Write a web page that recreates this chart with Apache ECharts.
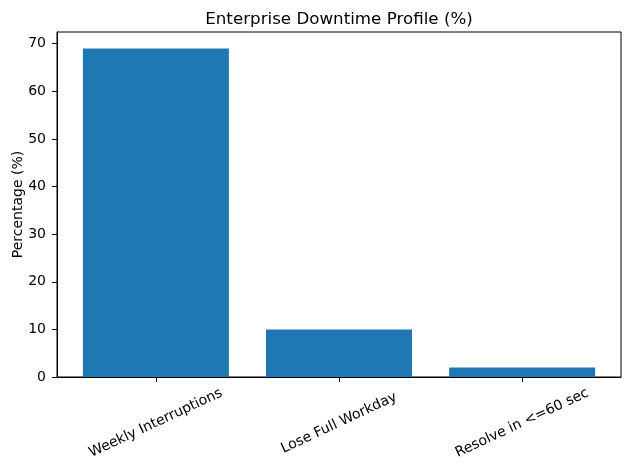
<!DOCTYPE html>
<html>
<head>
<meta charset="utf-8">
<script src="https://cdn.jsdelivr.net/npm/echarts@6/dist/echarts.min.js"></script>
<style>
  html, body { margin: 0; padding: 0; background: #fff; }
  #chart { width: 630px; height: 470px; }
</style>
</head>
<body>
<div id="chart"></div>
<script>
	// 数据
	var categories = ['Weekly Interruptions', 'Lose Full Workday', 'Resolve in <=60 sec'];
	var values = [69, 10, 2];
	var yTicks = [0, 10, 20, 30, 40, 50, 60, 70];
	var xPos = [0, 1, 2];

	var font = 'DejaVu Sans';
	var vm = echarts.init(document.getElementById('chart'));

	var barData = [];
	for (var i = 0; i < values.length; i++) {
		barData.push([xPos[i], values[i]]);
	}

	option = {
		animation: false,
		title: {
			text: 'Enterprise Downtime Profile (%)',
			left: 334,
			top: 6,
			textAlign: 'center',
			textStyle: { fontFamily: font, fontSize: 16.7, fontWeight: 'normal', color: '#000' }
		},
		grid: {
			left: 57, right: 9, top: 32, bottom: 93,
			outerBoundsMode: 'none',
			containLabel: false,
			show: true, borderColor: '#000', borderWidth: 1
		},
		xAxis: {
			type: 'value',
			min: -0.54,
			max: 2.54,
			splitLine: { show: false },
			axisLine: { show: true, onZero: false, lineStyle: { color: '#000', width: 1 } },
			axisTick: { show: true, length: 5, lineStyle: { color: '#000' }, customValues: xPos },
			axisLabel: {
				customValues: xPos,
				rotate: 25,
				align: 'center',
				verticalAlign: 'middle',
				margin: 46,
				fontFamily: font,
				fontSize: 14,
				color: '#000',
				formatter: function (v) { return categories[Math.round(v)]; }
			}
		},
		yAxis: {
			type: 'value',
			min: 0,
			max: 72.45,
			name: 'Percentage (%)',
			nameLocation: 'middle',
			nameGap: 32,
			nameMoveOverlap: false,
			nameTextStyle: { fontFamily: font, fontSize: 14, color: '#000' },
			splitLine: { show: false },
			axisLine: { show: true, onZero: false, lineStyle: { color: '#000', width: 1 } },
			axisTick: { show: true, length: 5, lineStyle: { color: '#000' }, customValues: yTicks },
			axisLabel: {
				customValues: yTicks,
				margin: 11,
				fontFamily: font,
				fontSize: 14,
				color: '#000'
			}
		},
		series: [
			{
				type: 'bar',
				data: barData,
				barWidth: 146,
				itemStyle: { color: '#1f77b4' }
			}
		]
	};
	vm.setOption(option);
</script>
</body>
</html>
